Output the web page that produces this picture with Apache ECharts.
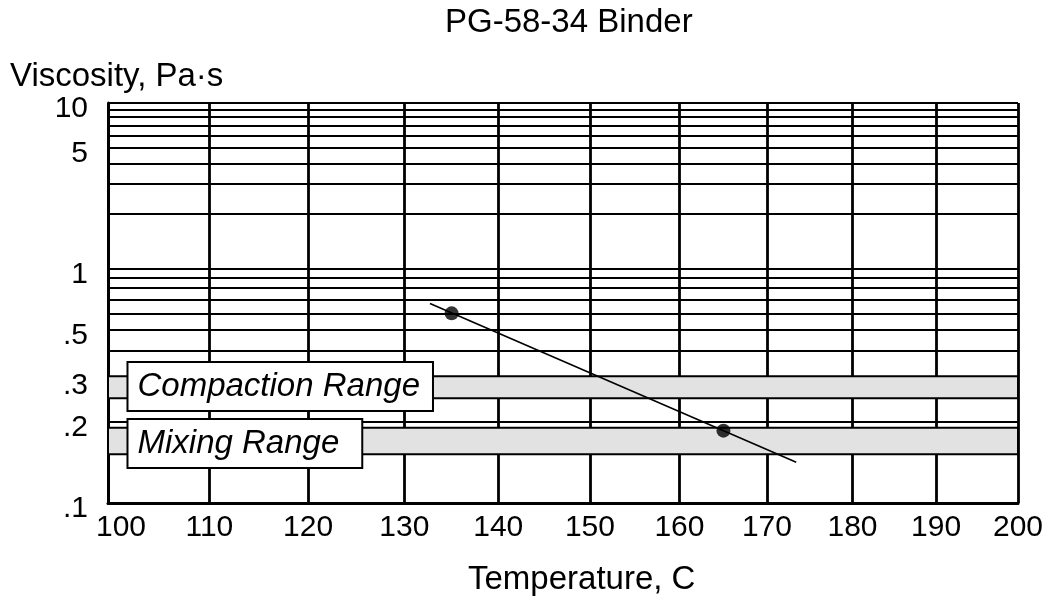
<!DOCTYPE html>
<html>
<head>
<meta charset="utf-8">
<script src="https://cdn.jsdelivr.net/npm/echarts@6/dist/echarts.min.js"></script>
<style>
html,body{margin:0;padding:0;background:#fff;}
#chart{width:1050px;height:596px;}
</style>
</head>
<body>
<div id="chart"></div>
<script>
// ---- data ----
const chartTitle = 'PG-58-34 Binder';
const yAxisTitle = 'Viscosity, Pa\u00b7s';
const xAxisTitle = 'Temperature, C';
const tempTicks = [100, 110, 120, 130, 140, 150, 160, 170, 180, 190, 200];
const viscGrid = [10, 9, 8, 7, 6, 5, 4, 3, 2, 1, 0.9, 0.8, 0.7, 0.6, 0.5, 0.4, 0.3, 0.2, 0.1];
const viscLabels = [10, 5, 1, 0.5, 0.3, 0.2, 0.1];
const measuredTemp = [135, 165];
const measuredVisc = [0.6, 0.185];
const fitTemp = [132.7, 173.4];
const fitVisc = [0.67, 0.14];
const compactionRange = [0.25, 0.31];
const mixingRange = [0.15, 0.19];
const compactionLabel = 'Compaction Range';
const mixingLabel = 'Mixing Range';
const compactionLabelAt = [102, 0.28];
const mixingLabelAt = [102, 0.165];

// ---- chart scales: log(T in K) vs log(log(viscosity in cP)) ----
const tx = t => Math.log10(t + 273.15);
const ty = v => Math.log10(Math.log10(v * 1000));
const fromTx = x => Math.pow(10, x) - 273.15;
const fromTy = y => Math.pow(10, Math.pow(10, y)) / 1000;

const FONT = '"Liberation Sans", Arial, Helvetica, sans-serif';

const chart = echarts.init(document.getElementById('chart'), null, {renderer: 'canvas'});

const option = {
  backgroundColor: '#fff',
  animation: false,
  title: {
    text: chartTitle,
    left: 440, top: 1,
    textStyle: {fontFamily: FONT, fontSize: 33, fontWeight: 'normal', color: '#000'}
  },
  graphic: [
    {type: 'text', left: 10, top: 60, style: {text: yAxisTitle, font: '33px ' + FONT, fill: '#000'}},
    {type: 'text', left: 468, top: 563, style: {text: xAxisTitle, font: '33px ' + FONT, fill: '#000'}}
  ],
  grid: {left: 108, right: 32, top: 103, bottom: 93, containLabel: false, outerBoundsMode: 'none'},
  xAxis: {
    type: 'value',
    min: tx(tempTicks[0]),
    max: tx(tempTicks[tempTicks.length - 1]),
    axisLine: {show: true, lineStyle: {color: '#000', width: 3}},
    axisTick: {show: false, customValues: tempTicks.map(tx)},
    axisLabel: {
      customValues: tempTicks.map(tx),
      margin: 10,
      fontFamily: FONT, fontSize: 30, color: '#000',
      formatter: function (v) {
        const t = Math.round(fromTx(v));
        if (t === tempTicks[0]) return '{first|' + t + '}';
        return String(t);
      },
      rich: {first: {fontFamily: FONT, fontSize: 30, color: '#000', padding: [0, 0, 0, 26]}}
    },
    splitLine: {show: true, lineStyle: {color: '#000', width: 2.8, type: 'solid'}}
  },
  yAxis: {
    type: 'value',
    min: ty(viscGrid[viscGrid.length - 1]),
    max: ty(viscGrid[0]),
    axisLine: {show: true, lineStyle: {color: '#000', width: 3}},
    axisTick: {show: false, customValues: viscGrid.map(ty)},
    axisLabel: {
      customValues: viscLabels.map(ty),
      margin: 20,
      verticalAlign: 'top',
      lineHeight: 12,
      fontFamily: FONT, fontSize: 30, color: '#000',
      formatter: function (v) {
        const val = Math.round(fromTy(v) * 100) / 100;
        const s = String(val);
        return val < 1 ? s.replace(/^0\./, '.') : s;
      }
    },
    splitLine: {show: true, lineStyle: {color: '#000', width: 2, type: 'solid'}}
  },
  series: [
    {
      type: 'line',
      name: 'ranges',
      data: [],
      silent: true,
      markArea: {
        silent: true,
        itemStyle: {color: '#e2e2e2', borderColor: '#000', borderWidth: 2},
        data: [
          [{yAxis: ty(compactionRange[0])}, {yAxis: ty(compactionRange[1])}],
          [{yAxis: ty(mixingRange[0])}, {yAxis: ty(mixingRange[1])}]
        ]
      }
    },
    {
      type: 'line',
      name: 'fit',
      data: fitTemp.map((t, i) => [tx(t), ty(fitVisc[i])]),
      symbol: 'none',
      lineStyle: {color: '#000', width: 1.6},
      z: 5
    },
    {
      type: 'scatter',
      name: 'measured',
      data: measuredTemp.map((t, i) => [tx(t), ty(measuredVisc[i])]),
      symbol: 'circle',
      symbolSize: 14,
      itemStyle: {color: '#000'},
      z: 6
    },
    {
      type: 'scatter',
      name: 'labels',
      data: [],
      z: 10,
      markPoint: {
        symbol: 'circle',
        symbolSize: 0,
        silent: true,
        label: {
          show: true,
          position: 'right',
          distance: 0,
          fontFamily: FONT, fontSize: 33, fontStyle: 'italic', color: '#000',
          backgroundColor: '#fff', borderColor: '#000', borderWidth: 2,
          padding: [8, 12, 6, 9],
          formatter: p => p.name
        },
        data: [
          {name: compactionLabel, coord: [tx(compactionLabelAt[0]), ty(compactionLabelAt[1])]},
          {name: mixingLabel, coord: [tx(mixingLabelAt[0]), ty(mixingLabelAt[1])],
           label: {padding: [8, 22, 6, 9]}}
        ]
      }
    }
  ]
};
chart.setOption(option);
</script>
</body>
</html>
